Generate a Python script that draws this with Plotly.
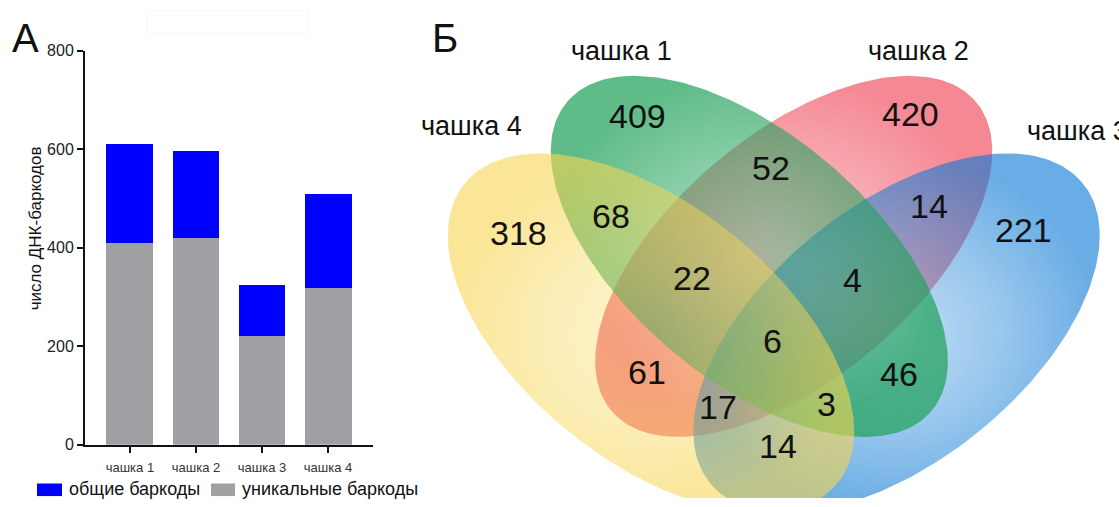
import numpy as np
import plotly.graph_objects as go

W, H = 1119, 507
FONT = "Liberation Sans, Arial, sans-serif"

# ---- panel A: barcodes per dish ----
dishes = ["чашка 1", "чашка 2", "чашка 3", "чашка 4"]
unique_counts = [409, 420, 221, 318]
shared_counts = [201, 176, 104, 191]
y_ticks = [0, 200, 400, 600, 800]

# ---- panel Б: Venn region counts ----
venn_regions = ["1", "2", "3", "4", "1&2", "2&3", "1&4", "1&2&4", "1&2&3",
                "1&2&3&4", "2&4", "1&3", "2&3&4", "1&3&4", "3&4"]
venn_counts = [409, 420, 221, 318, 52, 14, 68, 22, 4, 6, 61, 46, 17, 3, 14]

# label placement (pixel coords of the Venn panel)
region_xy = {"1": (637, 112), "2": (910, 110), "3": (1023, 230), "4": (518, 233),
             "1&2": (771, 166), "2&3": (929, 205), "1&4": (611, 215),
             "1&2&4": (692, 279), "1&2&3": (852, 281), "1&2&3&4": (772, 345),
             "2&4": (647, 377), "1&3": (899, 379), "2&3&4": (718, 413),
             "1&3&4": (826, 410), "3&4": (778, 453)}

# ellipse geometry: centre x, centre y, semi-major, semi-minor, tilt (deg)
ellipses = {
    "1": (749.3, 257.0, 242.5, 124.5, 42.0),
    "2": (793.7, 257.0, 242.5, 124.5, -42.0),
    "3": (896.5, 336.6, 242.5, 130.8, -40.4),
    "4": (651.0, 336.6, 242.5, 130.8, 40.4),
}

# fill colour, centre alpha, rim alpha
styles = {
    "2": ((238, 63, 80), 0.30, 0.62),
    "3": ((13, 122, 213), 0.25, 0.62),
    "1": ((33, 162, 91), 0.36, 0.72),
    "4": ((247, 213, 80), 0.25, 0.60),
}


def ellipse_xy(cx, cy, a, b, phi, n=240):
    t = np.linspace(0, 2 * np.pi, n)
    p = np.radians(phi)
    x = cx + a * np.cos(t) * np.cos(p) - b * np.sin(t) * np.sin(p)
    y = cy + a * np.cos(t) * np.sin(p) + b * np.sin(t) * np.cos(p)
    return x, y


def px(x):
    return x / W


def py(y):
    return 1 - y / H


fig = go.Figure()

fig.add_trace(go.Bar(x=dishes, y=unique_counts, name="уникальные баркоды",
                     marker=dict(color="#a0a0a4", line_width=0), width=0.71,
                     xaxis="x", yaxis="y", showlegend=False))
fig.add_trace(go.Bar(x=dishes, y=shared_counts, name="общие баркоды",
                     marker=dict(color="#0000ff", line_width=0), width=0.71,
                     xaxis="x", yaxis="y", showlegend=False))

for key in ["2", "3", "1", "4"]:
    ex, ey = ellipse_xy(*ellipses[key])
    (r, g, bl), a0, a1 = styles[key]
    fig.add_trace(go.Scatter(
        x=ex, y=ey, mode="lines", fill="toself", line=dict(width=0),
        fillgradient=dict(type="radial", colorscale=[
            [0, f"rgba({r},{g},{bl},{a0})"], [0.55, f"rgba({r},{g},{bl},{(a0 + a1) / 2})"],
            [1, f"rgba({r},{g},{bl},{a1})"]]),
        xaxis="x2", yaxis="y2", showlegend=False, hoverinfo="skip"))

annotations = []
num_font = dict(family=FONT, size=34, color="#111")
for reg, cnt in zip(venn_regions, venn_counts):
    x, y = region_xy[reg]
    annotations.append(dict(x=x, y=y, xref="x2", yref="y2", text=str(cnt),
                            xanchor="center", yanchor="middle",
                            showarrow=False, font=num_font))

lab_font = dict(family=FONT, size=27, color="#111")
for txt, (x, y) in [("чашка 1", (621, 45)), ("чашка 2", (918, 45)),
                    ("чашка 3", (1077, 127)), ("чашка 4", (471, 122))]:
    annotations.append(dict(x=x, y=y, xref="x2", yref="y2", text=txt,
                            xanchor="center", yanchor="middle",
                            showarrow=False, font=lab_font))

big = dict(family=FONT, size=40, color="#111")
for txt, (x, y) in [("А", (25, 31)), ("Б", (445, 31))]:
    annotations.append(dict(x=px(x), y=py(y), xref="paper", yref="paper", text=txt,
                            xanchor="center", yanchor="middle", showarrow=False, font=big))

annotations.append(dict(x=px(35), y=py(228), xref="paper", yref="paper",
                        text="число ДНК-баркодов", textangle=-90, showarrow=False,
                        xanchor="center", yanchor="middle",
                        font=dict(family=FONT, size=17, color="#111")))

leg_font = dict(family=FONT, size=18, color="#111")
for txt, x in [("общие баркоды", 67), ("уникальные баркоды", 240)]:
    annotations.append(dict(x=px(x), y=py(498), xref="paper", yref="paper",
                            xanchor="left", yanchor="middle", text=txt,
                            showarrow=False, font=leg_font))

shapes = [
    dict(type="rect", xref="paper", yref="paper", x0=px(37), x1=px(62), y0=py(505),
         y1=py(492), fillcolor="#0000ff", line_width=0),
    dict(type="rect", xref="paper", yref="paper", x0=px(211), x1=px(235), y0=py(505),
         y1=py(492), fillcolor="#a0a0a4", line_width=0),
    dict(type="rect", xref="paper", yref="paper", x0=px(147), x1=px(308), y0=py(27),
         y1=py(3), fillcolor="rgba(0,0,0,0)", line=dict(color="#f7f7f7", width=1)),
]

fig.update_layout(
    width=W, height=H, margin=dict(l=0, r=0, t=0, b=0),
    paper_bgcolor="white", plot_bgcolor="rgba(0,0,0,0)",
    barmode="stack", annotations=annotations, shapes=shapes,
    xaxis=dict(domain=[px(85), px(373)], range=[-0.68, 3.68], showline=True,
               linecolor="#111", linewidth=2, ticks="outside", ticklen=6, tickwidth=2,
               tickcolor="#111", showgrid=False, zeroline=False, tickangle=0,
               ticklabelstandoff=4,
               tickfont=dict(family=FONT, size=13, color="#333"), anchor="y"),
    yaxis=dict(domain=[py(452), py(44)], range=[0, 800], tickvals=y_ticks, showline=True,
               linecolor="#111", linewidth=2, ticks="outside", ticklen=6, tickwidth=2,
               tickcolor="#111", showgrid=False, zeroline=False,
               tickfont=dict(family=FONT, size=16, color="#222"), anchor="x"),
    xaxis2=dict(domain=[px(400), 1], range=[400, 1119], visible=False, anchor="y2"),
    yaxis2=dict(domain=[0, 1], range=[507, 0], visible=False, anchor="x2"),
)

fig.write_html("out.html")
